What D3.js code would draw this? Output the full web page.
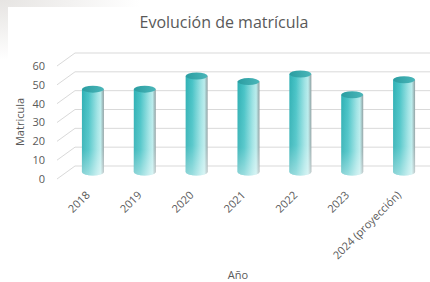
<!DOCTYPE html>
<html>
<head>
<meta charset="utf-8">
<script src="https://d3js.org/d3.v7.min.js"></script>
<style>
  body { margin:0; background:#fff; }
  text { font-family: "Open Sans", sans-serif; fill:#595959; }
</style>
</head>
<body>
<svg id="chart" width="430" height="282"></svg>
<script>
const years = ["2018", "2019", "2020", "2021", "2022", "2023", "2024 (proyección)"];
const matricula = [44, 44, 51, 48, 52, 41, 49];
const ticks = [0, 10, 20, 30, 40, 50, 60];

const W = 430, H = 282;
const depthX = -18, depthY = 13;   // front edge offset from back wall

const svg = d3.select("#chart");
const defs = svg.append("defs");

// soft grey shadow in the top-left corner
const sh = defs.append("radialGradient").attr("id", "shadow")
    .attr("cx", 0).attr("cy", 0).attr("r", 1);
sh.append("stop").attr("offset", "0%").attr("stop-color", "#e6e4e2");
sh.append("stop").attr("offset", "100%").attr("stop-color", "#fff");
svg.append("rect").attr("x", 0).attr("y", 0).attr("width", 140).attr("height", 60)
    .attr("fill", "url(#shadow)");
svg.append("rect").attr("x", 8).attr("y", 7).attr("width", W).attr("height", H).attr("fill", "#fff");

// cylinder gradients
const bodyGrad = defs.append("linearGradient").attr("id", "body").attr("x1", 0).attr("x2", 1);
[["0%", "#2fb0b4"], ["30%", "#48c3c6"], ["70%", "#9fe3e4"], ["85%", "#b9ecec"], ["100%", "#8e9ea0"]]
  .forEach(s => bodyGrad.append("stop").attr("offset", s[0]).attr("stop-color", s[1]));
const fade = defs.append("linearGradient").attr("id", "fade").attr("x1", 0).attr("x2", 0).attr("y1", 0).attr("y2", 1);
fade.append("stop").attr("offset", "0%").attr("stop-color", "#fff").attr("stop-opacity", 0);
fade.append("stop").attr("offset", "70%").attr("stop-color", "#fff").attr("stop-opacity", 0.1);
fade.append("stop").attr("offset", "100%").attr("stop-color", "#fff").attr("stop-opacity", 0.45);
const topGrad = defs.append("linearGradient").attr("id", "capTop").attr("x1", 0).attr("x2", 1);
topGrad.append("stop").attr("offset", "0%").attr("stop-color", "#2a9da1");
topGrad.append("stop").attr("offset", "100%").attr("stop-color", "#4bb6b9");

const y = d3.scaleLinear().domain([0, 60]).range([166, 53]);
const x = d3.scaleBand().domain(years).range([67, 430]).paddingInner(0).paddingOuter(0);

// back wall gridlines + side diagonals
const grid = svg.append("g").attr("stroke", "#d9d9d9").attr("stroke-width", 1);
ticks.forEach(t => {
  grid.append("line").attr("x1", 75).attr("x2", W).attr("y1", y(t)).attr("y2", y(t));
  grid.append("line").attr("x1", 75 + depthX).attr("y1", y(t) + depthY)
      .attr("x2", 75).attr("y2", y(t));
});

// y tick labels (front plane)
svg.append("g").selectAll("text").data(ticks).join("text")
    .attr("x", 45).attr("y", d => y(d) + depthY)
    .attr("dy", "0.35em").attr("text-anchor", "end")
    .style("font-size", "11px").text(d => d);

// cylinders
const rx = 11, ry = 3.5, off = 6;
const bars = svg.append("g").selectAll("g").data(years).join("g");
bars.each(function(d, i) {
  const g = d3.select(this);
  const cx = x(d) + x.bandwidth() / 2;
  const yt = y(matricula[i]) + off, yb = y(0) + off;
  const p = `M${cx - rx},${yt} L${cx - rx},${yb} A${rx},${ry} 0 0 0 ${cx + rx},${yb} L${cx + rx},${yt} Z`;
  g.append("path").attr("d", p).attr("fill", "url(#body)");
  g.append("path").attr("d", p).attr("fill", "url(#fade)");
  g.append("ellipse").attr("cx", cx).attr("cy", yt).attr("rx", rx).attr("ry", ry)
      .attr("fill", "url(#capTop)");
});

// x labels
svg.append("g").selectAll("text").data(years).join("text")
    .attr("transform", d => `translate(${x(d) + x.bandwidth() / 2 - 5},${193}) rotate(-45)`)
    .attr("text-anchor", "end").attr("dy", "0.35em")
    .style("font-size", "11px").text(d => d);

// titles
svg.append("text").attr("x", 224).attr("y", 28).attr("text-anchor", "middle")
    .style("font-size", "16px").text("Evolución de matrícula");
svg.append("text").attr("transform", "translate(24,122) rotate(-90)")
    .attr("text-anchor", "middle").style("font-size", "11px").text("Matricula");
svg.append("text").attr("x", 238).attr("y", 279).attr("text-anchor", "middle")
    .style("font-size", "11px").text("Año");
</script>
</body>
</html>
